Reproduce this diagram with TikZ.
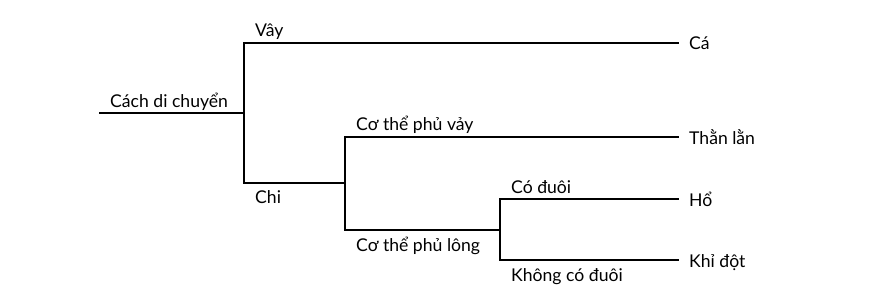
\documentclass[tikz,border=0pt]{standalone}
\usepackage{fontspec}
\setmainfont{Lato}
\begin{document}
\begin{tikzpicture}[x=1pt,y=-1pt,
  branch/.style={line width=1.7pt,line cap=rect},
  lbl/.style={anchor=base west,inner sep=0pt,font=\fontsize{17.6}{20}\selectfont},
  leaf/.style={anchor=base west,inner sep=0pt,font=\fontsize{17.6}{20}\selectfont}]
\useasboundingbox (0,0) rectangle (889,294);
% junction coordinates
\coordinate (root) at (100,112.7);
\coordinate (j1) at (244,112.7);
\coordinate (j1t) at (244,42.7);
\coordinate (j1b) at (244,183);
\coordinate (j2) at (345,183);
\coordinate (j2t) at (345,136.7);
\coordinate (j2b) at (345,230);
\coordinate (j3) at (500,230);
\coordinate (j3t) at (500,199);
\coordinate (j3b) at (500,260);
\coordinate (eCa) at (678,42.7);
\coordinate (eTL) at (678,136.7);
\coordinate (eHo) at (678,199);
\coordinate (eKD) at (678,260);
% labels
\node[lbl] (tcach) at (110,108) {Cách di chuyển};
\node[lbl] (tvay) at (255,36.7) {Vây};
\node[lbl] (tchi) at (255,203) {Chi};
\node[lbl] (tpv) at (356,130.7) {Cơ thể phủ vảy};
\node[lbl] (tpl) at (356,251.6) {Cơ thể phủ lông};
\node[lbl] (tcd) at (511,193.3) {Có đuôi};
\node[lbl] (tkcd) at (511,281.6) {Không có đuôi};
\node[leaf] (ca) at (689,50) {Cá};
\node[leaf] (tl) at (689,144.5) {Thằn lằn};
\node[leaf] (ho) at (689,206.8) {Hổ};
\node[leaf] (kd) at (689,267.5) {Khỉ đột};
% tree
\draw[branch] (root) -- (j1);
\draw[branch] (eCa) -- (j1t) -- (j1b) -- (j2);
\draw[branch] (eTL) -- (j2t) -- (j2b) -- (j3);
\draw[branch] (eHo) -- (j3t) -- (j3b) -- (eKD);
\end{tikzpicture}
\end{document}
